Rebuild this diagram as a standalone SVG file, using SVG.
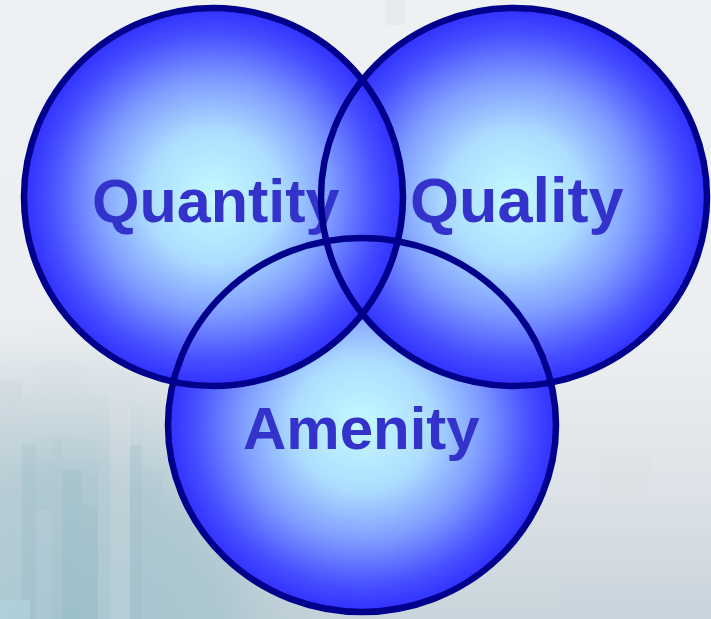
<svg xmlns="http://www.w3.org/2000/svg" width="711" height="619" viewBox="0 0 711 619">
  <defs>
    <radialGradient id="ballFill" cx="0.5" cy="0.5" r="0.5">
      <stop offset="0" stop-color="#C4FAFF"/>
      <stop offset="0.35" stop-color="#ADDDFF"/>
      <stop offset="0.62" stop-color="#7E9CFF"/>
      <stop offset="0.86" stop-color="#4850FF"/>
      <stop offset="1" stop-color="#3030FF"/>
    </radialGradient>
    <linearGradient id="bgV" x1="0" y1="0" x2="0" y2="1">
      <stop offset="0" stop-color="#EEF1F4"/>
      <stop offset="0.55" stop-color="#ECEFF2"/>
      <stop offset="0.8" stop-color="#DCE2E7"/>
      <stop offset="1" stop-color="#C8D4DB"/>
    </linearGradient>
    <radialGradient id="cityTeal" cx="60" cy="640" r="330" gradientUnits="userSpaceOnUse">
      <stop offset="0" stop-color="#9CC2CC" stop-opacity="1"/>
      <stop offset="0.5" stop-color="#A9C5CE" stop-opacity="0.85"/>
      <stop offset="1" stop-color="#C9D4DA" stop-opacity="0"/>
    </radialGradient>
    <style>
      .fill { fill: url(#ballFill); }
      .ring { fill: none; stroke: #00008C; stroke-width: 6.5; }
      .label { font-family: "Liberation Sans", Arial, sans-serif; font-weight: bold; fill: #3333CC; }
      .px { opacity: 0.3; }
    </style>
  </defs>

  <!-- background -->
  <rect x="0" y="0" width="711" height="619" fill="url(#bgV)"/>
  <rect x="0" y="300" width="711" height="319" fill="url(#cityTeal)"/>
  <g class="px">
    <rect x="0" y="380" width="22" height="239" fill="#C9D6DD"/>
    <rect x="22" y="445" width="14" height="174" fill="#A9C3CC"/>
    <rect x="36" y="510" width="16" height="109" fill="#C4D3E0"/>
    <rect x="52" y="440" width="10" height="179" fill="#B7C8D2"/>
    <rect x="62" y="470" width="20" height="149" fill="#98BBC5"/>
    <rect x="82" y="505" width="16" height="114" fill="#9DBCC6"/>
    <rect x="98" y="440" width="12" height="179" fill="#C5D3DC"/>
    <rect x="110" y="390" width="20" height="229" fill="#E2E3EA"/>
    <rect x="130" y="445" width="12" height="174" fill="#A5BFCA"/>
    <rect x="142" y="470" width="20" height="149" fill="#B2C8D4"/>
    <rect x="0" y="600" width="30" height="19" fill="#CDEAF5"/>
    <rect x="560" y="575" width="151" height="44" fill="#CCD5DE"/>
    <rect x="600" y="455" width="50" height="40" fill="#D9DDE2"/>
    <rect x="385" y="0" width="20" height="25" fill="#DCDDE2"/>
  </g>

  <!-- fills (bottom to top) -->
  <g id="node-amenity">
    <ellipse class="fill" cx="362" cy="425" rx="194" ry="187"/>
  </g>
  <g id="node-quality">
    <ellipse class="fill" cx="514" cy="197" rx="193" ry="189"/>
  </g>
  <g id="node-quantity">
    <ellipse class="fill" cx="213.5" cy="197" rx="189.5" ry="189"/>
  </g>

  <!-- labels -->
  <g id="labels">
    <text class="label" x="92" y="222" font-size="61">Quantity</text>
    <text class="label" x="410" y="222" font-size="63">Quality</text>
    <text class="label" x="243" y="449" font-size="60">Amenity</text>
  </g>

  <!-- outlines -->
  <g id="connectors">
    <ellipse class="ring" cx="362" cy="425" rx="194" ry="187"/>
    <ellipse class="ring" cx="514" cy="197" rx="193" ry="189"/>
    <ellipse class="ring" cx="213.5" cy="197" rx="189.5" ry="189"/>
  </g>
</svg>
